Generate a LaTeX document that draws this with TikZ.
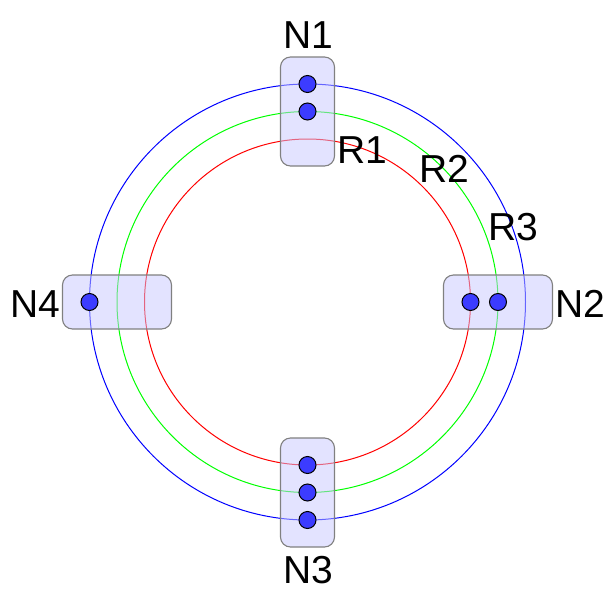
\documentclass[tikz,border=0pt]{standalone}
\usepackage{fontspec}
\setmainfont{Liberation Sans}
\begin{document}
\begin{tikzpicture}[x=1pt,y=-1pt,
  ring/.style={line width=1pt},
  nodebox/.style={draw=black!50, line width=1.1pt, fill={rgb,255:red,200;green,200;blue,255}, fill opacity=0.5, draw opacity=1, rounded corners=10pt, inner sep=0pt},
  vbox/.style={nodebox, minimum width=54pt, minimum height=109pt},
  hbox/.style={nodebox, minimum width=109pt, minimum height=54pt},
  dot/.style={circle, draw=black, line width=1pt, fill={rgb,255:red,60;green,60;blue,255}, minimum size=17pt, inner sep=0pt},
  lbl/.style={anchor=base, inner sep=0pt, font=\fontsize{39}{46}\selectfont}]
\useasboundingbox (0,0) rectangle (606,590);
\coordinate (c) at (307.5,302);
\draw[ring, red] (c) circle[radius=163];
\draw[ring, green] (c) circle[radius=190.5];
\draw[ring, blue] (c) circle[radius=218];
\node[vbox] (b1) at (307.5,111.5) {};
\node[hbox] (b2) at (498,302) {};
\node[vbox] (b3) at (307.5,492.5) {};
\node[hbox] (b4) at (117,302) {};
\node[dot] (n1a) at (307.5,84) {};
\node[dot] (n1b) at (307.5,111.5) {};
\node[dot] (n2a) at (470.5,302) {};
\node[dot] (n2b) at (498,302) {};
\node[dot] (n3a) at (307.5,465) {};
\node[dot] (n3b) at (307.5,492.5) {};
\node[dot] (n3c) at (307.5,520) {};
\node[dot] (n4a) at (89.5,302) {};
\node[lbl] (l1) at (308,48) {N1};
\node[lbl] (l2) at (580,317) {N2};
\node[lbl] (l3) at (308,583) {N3};
\node[lbl] (l4) at (35,317) {N4};
\node[lbl] (r1) at (362.5,163) {R1};
\node[lbl] (r2) at (444,182) {R2};
\node[lbl] (r3) at (513.5,240) {R3};
\end{tikzpicture}
\end{document}
